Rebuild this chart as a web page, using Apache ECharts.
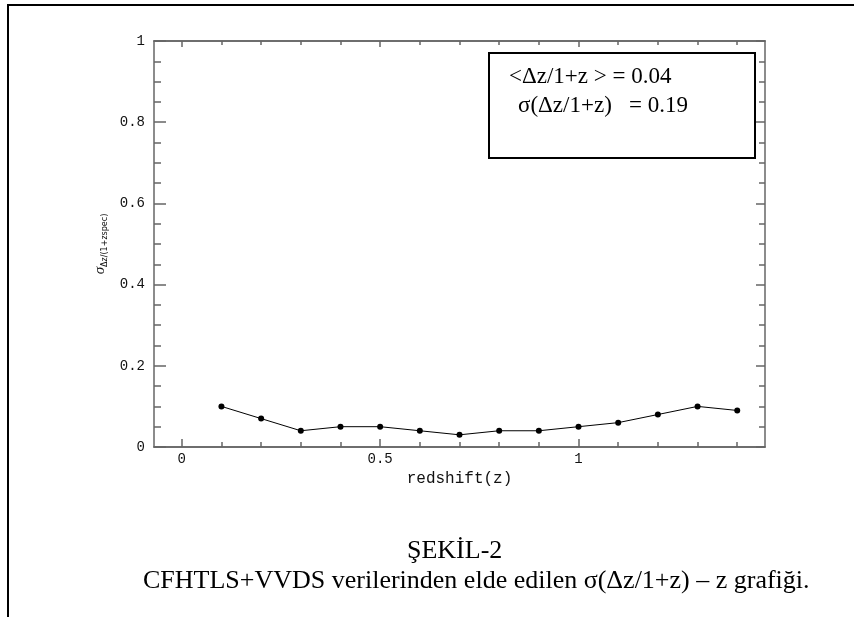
<!DOCTYPE html>
<html>
<head>
<meta charset="utf-8">
<script src="https://cdn.jsdelivr.net/npm/echarts@6/dist/echarts.min.js"></script>
<style>
  html, body { margin: 0; padding: 0; background: #fff; }
  #main { width: 854px; height: 617px; }
</style>
</head>
<body>
<div id="main"></div>
<script>
  // veriler
  var zValues = [0.1, 0.2, 0.3, 0.4, 0.5, 0.6, 0.7, 0.8, 0.9, 1.0, 1.1, 1.2, 1.3, 1.4];
  var sigmaValues = [0.10, 0.07, 0.04, 0.05, 0.05, 0.04, 0.03, 0.04, 0.04, 0.05, 0.06, 0.08, 0.10, 0.09];
  var xTickValues = [0, 0.1, 0.2, 0.3, 0.4, 0.5, 0.6, 0.7, 0.8, 0.9, 1, 1.1, 1.2, 1.3, 1.4];
  var xLabelValues = [0, 0.5, 1];
  var boxLines = ['<\u0394z/1+z > = 0.04', '\u03c3(\u0394z/1+z)   = 0.19'];
  var captionTitle = '\u015eEK\u0130L-2';
  var captionText = 'CFHTLS+VVDS verilerinden elde edilen \u03c3(\u0394z/1+z) \u2013 z grafi\u011fi.';

  var myChart = echarts.init(document.getElementById('main'));

  var points = [];
  zValues.forEach(function (z, i) {
    points.push([z, sigmaValues[i]]);
  });

  var axisColor = '#666';
  var monoFont = 'Liberation Mono';
  var serifFont = 'Liberation Serif';

  // x eksenleri: alt (etiketli), alt büyük tikler, üst
  function xAxisDef(pos, ticks, len, withLabels) {
    return {
      type: 'value',
      position: pos,
      min: -0.07,
      max: 1.47,
      axisLine: { show: true, onZero: false, lineStyle: { color: axisColor, width: 1.5 } },
      axisTick: { show: true, inside: true, length: len, customValues: ticks,
        lineStyle: { color: axisColor, width: 1.5 } },
      axisLabel: withLabels ? { show: true, customValues: xLabelValues, margin: 5,
        fontFamily: monoFont, fontSize: 14, color: '#111' } : { show: false },
      splitLine: { show: false }
    };
  }

  function yAxisDef(pos, len, minorLen, withLabels) {
    return {
      type: 'value',
      position: pos,
      min: 0,
      max: 1,
      interval: 0.2,
      axisLine: { show: true, onZero: false, lineStyle: { color: axisColor, width: 1.5 } },
      axisTick: { show: true, inside: true, length: len, lineStyle: { color: axisColor, width: 1.5 } },
      minorTick: { show: true, splitNumber: 4, length: minorLen, lineStyle: { color: axisColor, width: 1.5 } },
      axisLabel: withLabels ? { show: true, margin: 9, fontFamily: monoFont, fontSize: 14, color: '#111' } : { show: false },
      splitLine: { show: false },
      minorSplitLine: { show: false }
    };
  }

  var xBottom = xAxisDef('bottom', xTickValues, 5, true);
  xBottom.name = 'redshift(z)';
  xBottom.nameLocation = 'middle';
  xBottom.nameGap = 11;
  xBottom.nameTextStyle = { fontFamily: monoFont, fontSize: 16, color: '#111', verticalAlign: 'top' };

  var yLeft = yAxisDef('left', 12, 7, true);
  yLeft.name = '{s|\u03c3}{sub|\u0394z/(1+zspec)}';
  yLeft.nameLocation = 'middle';
  yLeft.nameRotate = 90;
  yLeft.nameGap = 44;
  yLeft.nameTextStyle = {
    rich: {
      s: { fontFamily: serifFont, fontStyle: 'italic', fontSize: 15, lineHeight: 17, color: '#111' },
      sub: { fontFamily: 'DejaVu Sans', fontSize: 8, lineHeight: 8, verticalAlign: 'bottom', color: '#111' }
    }
  };

  var option = {
    animation: false,
    backgroundColor: '#fff',
    grid: { left: 154, top: 41, width: 611, height: 406 },
    xAxis: [
      xBottom,
      xAxisDef('bottom', xLabelValues, 8, false),
      xAxisDef('top', xTickValues, 4, false),
      xAxisDef('top', xLabelValues, 6, false)
    ],
    yAxis: [
      yLeft,
      yAxisDef('right', 9, 6, false)
    ],
    series: [
      {
        type: 'line',
        xAxisIndex: 0,
        yAxisIndex: 0,
        data: points,
        symbol: 'circle',
        symbolSize: 6,
        itemStyle: { color: '#000' },
        lineStyle: { color: '#000', width: 1 }
      }
    ],
    graphic: [
      // sayfa çerçevesi
      { type: 'line', shape: { x1: 8, y1: 5, x2: 854, y2: 5 }, style: { stroke: '#000', lineWidth: 2 } },
      { type: 'line', shape: { x1: 8, y1: 4, x2: 8, y2: 617 }, style: { stroke: '#000', lineWidth: 2 } },
      // bilgi kutusu
      { type: 'rect', shape: { x: 489, y: 53, width: 266, height: 105 },
        style: { fill: '#fff', stroke: '#000', lineWidth: 2 }, z: 10 },
      { type: 'text', x: 509, y: 77, z: 11,
        style: { text: boxLines[0], fontFamily: serifFont, fontSize: 23, fill: '#000', verticalAlign: 'middle' } },
      { type: 'text', x: 518, y: 106, z: 11,
        style: { text: boxLines[1], fontFamily: serifFont, fontSize: 23, fill: '#000', verticalAlign: 'middle' } },
      // alt yazı
      { type: 'text', x: 407, y: 551,
        style: { text: captionTitle, fontFamily: serifFont, fontSize: 26, fill: '#000', verticalAlign: 'middle' } },
      { type: 'text', x: 143, y: 581,
        style: { text: captionText, fontFamily: serifFont, fontSize: 26, fill: '#000', verticalAlign: 'middle' } }
    ]
  };

  myChart.setOption(option);
</script>
</body>
</html>
